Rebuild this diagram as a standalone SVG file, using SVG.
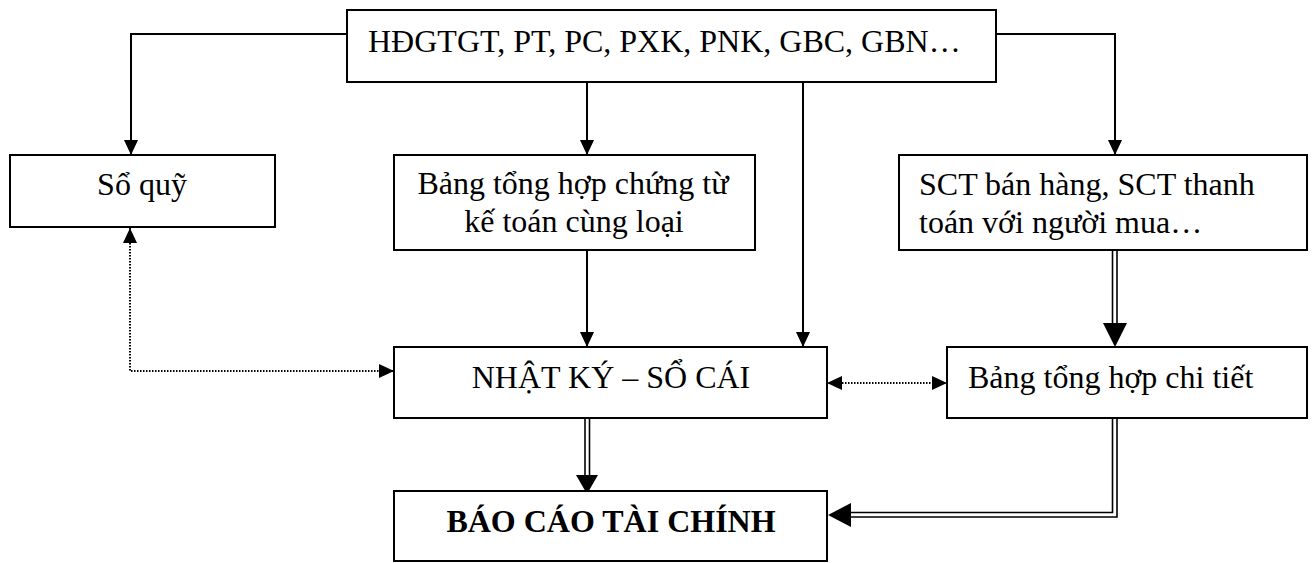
<svg xmlns="http://www.w3.org/2000/svg" width="1312" height="563" viewBox="0 0 1312 563">
<style>
.box{fill:#fff;stroke:#000;stroke-width:2}
.t{font-family:"Liberation Serif","Times New Roman",serif;font-size:32px;fill:#000}
.b{font-weight:bold}
.ln{fill:none;stroke:#000;stroke-width:2}
.dl{fill:none;stroke:#000;stroke-width:1.6}
.dot{fill:none;stroke:#000;stroke-width:2;stroke-dasharray:1.5 1.5}
</style>
<defs>
<marker id="ah" viewBox="0 0 15 14" refX="15" refY="7" markerWidth="15" markerHeight="14" markerUnits="userSpaceOnUse" orient="auto-start-reverse">
<path d="M0,0 L15,7 L0,14 Z" fill="#000"/>
</marker>
</defs>
<rect width="1312" height="563" fill="#fff"/>
<g id="connectors">
<polyline class="ln" points="347,34 131,34 131,155" marker-end="url(#ah)"/>
<polyline class="ln" points="996,34 1115,34 1115,155" marker-end="url(#ah)"/>
<line class="ln" x1="587" y1="82" x2="587" y2="155" marker-end="url(#ah)"/>
<line class="ln" x1="803" y1="82" x2="803" y2="347" marker-end="url(#ah)"/>
<line class="ln" x1="587" y1="250" x2="587" y2="347" marker-end="url(#ah)"/>
<polyline class="dot" points="130,228 130,371 394,371" marker-start="url(#ah)" marker-end="url(#ah)"/>
<line class="dot" x1="827" y1="383" x2="947" y2="383" marker-start="url(#ah)" marker-end="url(#ah)"/>
<line class="dl" x1="1112.5" y1="250" x2="1112.5" y2="325"/>
<line class="dl" x1="1117" y1="250" x2="1117" y2="325"/>
<path d="M1103,323 L1127,323 L1115,347 Z" fill="#000"/>
<line class="dl" x1="585" y1="418" x2="585" y2="476"/>
<line class="dl" x1="589.5" y1="418" x2="589.5" y2="476"/>
<path d="M576,475 L598,475 L587,494 Z" fill="#000"/>
<polyline class="dl" points="1112.5,418 1112.5,512.5 848,512.5"/>
<polyline class="dl" points="1117,418 1117,517 848,517"/>
<path d="M851,503 L851,527 L828,515 Z" fill="#000"/>
</g>
<g id="n-top"><rect class="box" x="347" y="10" width="649" height="72"/><text class="t" x="368" y="52">HĐGTGT, PT, PC, PXK, PNK, GBC, GBN…</text></g>
<g id="n-soquy"><rect class="box" x="10" y="155" width="265" height="72"/><text class="t" x="142" y="195" text-anchor="middle">Sổ quỹ</text></g>
<g id="n-bangth"><rect class="box" x="394" y="155" width="361" height="95"/><text class="t" x="573" y="194" text-anchor="middle">Bảng tổng hợp chứng từ</text><text class="t" x="574" y="232" text-anchor="middle">kế toán cùng loại</text></g>
<g id="n-sct"><rect class="box" x="899" y="155" width="408" height="95"/><text class="t" x="919" y="195">SCT bán hàng, SCT thanh</text><text class="t" x="919" y="233">toán với người mua…</text></g>
<g id="n-nksc"><rect class="box" x="394" y="347" width="433" height="71"/><text class="t" x="611" y="388" text-anchor="middle">NHẬT KÝ – SỔ CÁI</text></g>
<g id="n-chitiet"><rect class="box" x="947" y="347" width="360" height="71"/><text class="t" x="968" y="388">Bảng tổng hợp chi tiết</text></g>
<g id="n-bctc"><rect class="box" x="394" y="491" width="433" height="70"/><text class="t b" x="611" y="532" text-anchor="middle">BÁO CÁO TÀI CHÍNH</text></g>
</svg>
